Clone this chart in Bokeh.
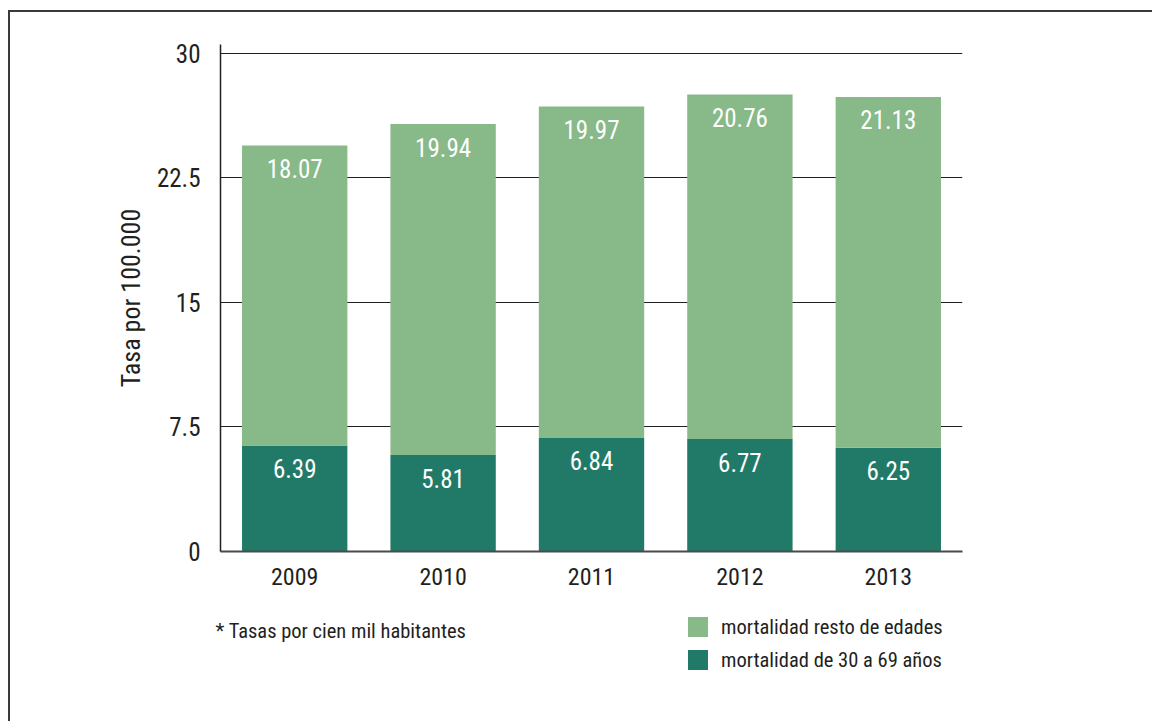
from bokeh.plotting import figure
from bokeh.layouts import column
from bokeh.models import (ColumnDataSource, FactorRange, Range1d, FixedTicker,
                          Legend, LegendItem, Label, LabelSet)
from bokeh.core.properties import value
from bokeh.embed import file_html
from bokeh.resources import INLINE

years = ["2009", "2010", "2011", "2012", "2013"]
mort_30_69 = [6.39, 5.81, 6.84, 6.77, 6.25]
mort_resto = [18.07, 19.94, 19.97, 20.76, 21.13]
y_ticks = [0, 7.5, 15, 22.5, 30]
y_tick_labels = ["0", "7.5", "15", "22.5", "30"]
series_names = ["mortalidad resto de edades", "mortalidad de 30 a 69 años"]
footnote = "* Tasas por cien mil habitantes"

DARK = "#217a68"
LIGHT = "#88b988"
TXT = "#231f20"
FONT = "Roboto Condensed"

totals = [a + b for a, b in zip(mort_30_69, mort_resto)]
source = ColumnDataSource(dict(
    year=years, dark=mort_30_69, light=mort_resto, total=totals,
    dark_lbl=[f"{v:.2f}" for v in mort_30_69],
    light_lbl=[f"{v:.2f}" for v in mort_resto],
))

W = 1142
H1 = 588
H2 = 121

p = figure(x_range=FactorRange(*years), y_range=Range1d(0, 30.54),
           width=W, height=H1, output_backend="svg", toolbar_location=None,
           min_border_left=210, min_border_right=190, min_border_top=32,
           min_border_bottom=49)
p.frame_align = False
p.outline_line_color = None

rs = p.vbar_stack(["dark", "light"], x="year", width=0.71, color=[DARK, LIGHT],
                  line_color=None, source=source)

p.add_layout(LabelSet(x="year", y="dark", text="dark_lbl", source=source,
                      text_align="center", text_baseline="middle", y_offset=-23,
                      text_color="white", text_font=value(FONT), text_font_size="25px"))
p.add_layout(LabelSet(x="year", y="total", text="light_lbl", source=source,
                      text_align="center", text_baseline="middle", y_offset=-23,
                      text_color="white", text_font=value(FONT), text_font_size="25px"))

p.xgrid.grid_line_color = None
p.ygrid.ticker = FixedTicker(ticks=y_ticks)
p.ygrid.grid_line_color = TXT
p.ygrid.grid_line_width = 1

p.yaxis.ticker = FixedTicker(ticks=y_ticks)
p.yaxis.major_label_overrides = {t: l for t, l in zip(y_ticks, y_tick_labels)}
p.yaxis.major_tick_line_color = None
p.yaxis.minor_tick_line_color = None
p.yaxis.axis_line_color = TXT
p.yaxis.axis_line_width = 1.5
p.yaxis.major_label_standoff = 14
p.yaxis.major_label_text_font = FONT
p.yaxis.major_label_text_font_size = "25px"
p.yaxis.major_label_text_color = TXT
p.yaxis.axis_label = "Tasa por 100.000"
p.yaxis.axis_label_text_font = FONT
p.yaxis.axis_label_text_font_size = "26px"
p.yaxis.axis_label_text_font_style = "normal"
p.yaxis.axis_label_text_color = TXT
p.yaxis.axis_label_standoff = 8

p.xaxis.major_tick_line_color = None
p.xaxis.axis_line_color = "#4a4a4a"
p.xaxis.axis_line_width = 2
p.xaxis.major_label_standoff = 10
p.xaxis.major_label_text_font = FONT
p.xaxis.major_label_text_font_size = "24px"
p.xaxis.major_label_text_color = TXT

# lower panel: footnote and legend
p2 = figure(x_range=Range1d(0, W), y_range=Range1d(0, H2), width=W, height=H2,
            output_backend="svg", toolbar_location=None,
            x_axis_location=None, y_axis_location=None,
            min_border=0, min_border_left=0, min_border_right=0,
            min_border_top=0, min_border_bottom=0)
p2.frame_align = False
p2.grid.visible = False
p2.outline_line_color = None

# zero-size swatch glyphs that only feed the legend
swatch = ColumnDataSource(dict(x=[0], top=[0], bottom=[0]))
r_light = p2.vbar(x="x", top="top", bottom="bottom", width=0, source=swatch,
                  fill_color=LIGHT, line_color=None)
r_dark = p2.vbar(x="x", top="top", bottom="bottom", width=0, source=swatch,
                 fill_color=DARK, line_color=None)
legend = Legend(items=[LegendItem(label=series_names[0], renderers=[r_light], index=0),
                       LegendItem(label=series_names[1], renderers=[r_dark], index=0)],
                location=(675, 49), orientation="vertical",
                glyph_width=25, glyph_height=25, label_height=25, spacing=8,
                label_standoff=11, padding=0, margin=0,
                border_line_color=None, background_fill_alpha=0,
                label_text_font=FONT, label_text_font_size="20.5px",
                label_text_color=TXT)
p2.add_layout(legend, "center")

p2.add_layout(Label(x=205, y=91, text=footnote, text_baseline="middle",
                    text_font=FONT, text_font_size="20.5px", text_color=TXT))

layout = column(p, p2, spacing=0)
layout.styles = {"border-top": "2px solid #3a3a3a", "border-left": "2px solid #3a3a3a",
                 "margin-top": "10px", "margin-left": "8px"}

open("out.html", "w").write(file_html(layout, INLINE))
